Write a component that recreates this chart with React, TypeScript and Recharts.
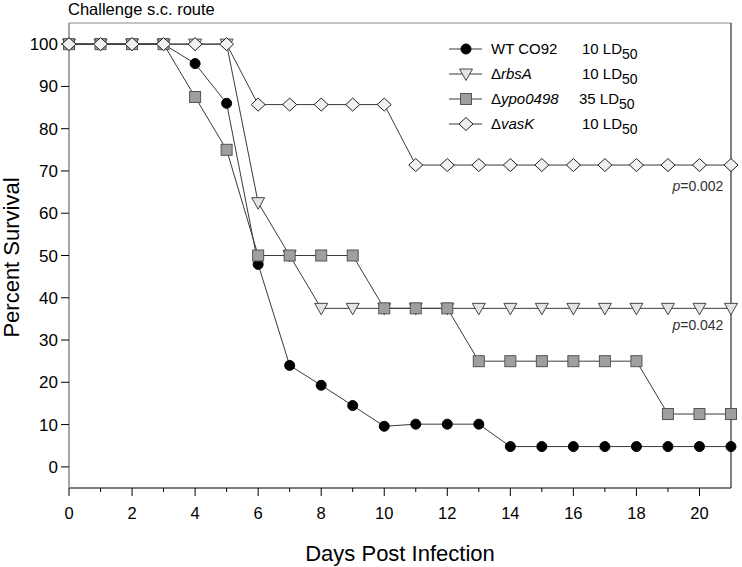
import { LineChart, Line, XAxis, YAxis, ReferenceLine, ReferenceDot, Legend } from 'recharts'

const days = [0, 1, 2, 3, 4, 5, 6, 7, 8, 9, 10, 11, 12, 13, 14, 15, 16, 17, 18, 19, 20, 21]
const wtCO92 = [100, 100, 100, 100, 95.4, 86, 47.9, 24, 19.3, 14.5, 9.6, 10.1, 10.1, 10.1, 4.8, 4.8, 4.8, 4.8, 4.8, 4.8, 4.8, 4.8]
const rbsA = [100, 100, 100, 100, 100, 100, 62.5, 50, 37.5, 37.5, 37.5, 37.5, 37.5, 37.5, 37.5, 37.5, 37.5, 37.5, 37.5, 37.5, 37.5, 37.5]
const ypo0498 = [100, 100, 100, 100, 87.5, 75, 50, 50, 50, 50, 37.5, 37.5, 37.5, 25, 25, 25, 25, 25, 25, 12.5, 12.5, 12.5]
const vasK = [100, 100, 100, 100, 100, 100, 85.7, 85.7, 85.7, 85.7, 85.7, 71.4, 71.4, 71.4, 71.4, 71.4, 71.4, 71.4, 71.4, 71.4, 71.4, 71.4]

const xTicks = [0, 1, 2, 3, 4, 5, 6, 7, 8, 9, 10, 11, 12, 13, 14, 15, 16, 17, 18, 19, 20]
const yTicks = [0, 10, 20, 30, 40, 50, 60, 70, 80, 90, 100]

const pValues = [
  { x: 20.76, y: 66.4, text: '0.002' },
  { x: 20.76, y: 33.6, text: '0.042' },
]

const FONT = "'Liberation Sans', Arial, sans-serif"
const LINE = '#3a3a3a'

const data = days.map((d, i) => ({
  day: d,
  wt: wtCO92[i],
  rbsA: rbsA[i],
  ypo: ypo0498[i],
  vasK: vasK[i],
}))

type Shape = 'circle' | 'triangle' | 'square' | 'diamond'

function Marker({ shape, cx, cy }: { shape: Shape; cx: number; cy: number }) {
  if (shape === 'circle') return <circle cx={cx} cy={cy} r={5} fill="#000" stroke="#000" />
  if (shape === 'triangle')
    return (
      <polygon
        points={`${cx - 6.5},${cy - 5} ${cx + 6.5},${cy - 5} ${cx},${cy + 6.5}`}
        fill="#e4e4e4"
        stroke="#444"
        strokeWidth={1}
      />
    )
  if (shape === 'square')
    return <rect x={cx - 5.5} y={cy - 5.5} width={11} height={11} fill="#9f9f9f" stroke="#555" strokeWidth={1} />
  return (
    <polygon
      points={`${cx},${cy - 6.5} ${cx + 7},${cy} ${cx},${cy + 6.5} ${cx - 7},${cy}`}
      fill="#f0f0f0"
      stroke="#222"
      strokeWidth={1}
    />
  )
}

const makeDot = (shape: Shape) =>
  // eslint-disable-next-line @typescript-eslint/no-explicit-any
  (props: any) => <Marker key={`${shape}-${props.index}`} shape={shape} cx={props.cx} cy={props.cy} />

const legendRows: { shape: Shape; name: string; italic: boolean; dose: string }[] = [
  { shape: 'circle', name: 'WT CO92', italic: false, dose: '10' },
  { shape: 'triangle', name: 'rbsA', italic: true, dose: '10' },
  { shape: 'square', name: 'ypo0498', italic: true, dose: '35' },
  { shape: 'diamond', name: 'vasK', italic: true, dose: '10' },
]

function LegendBox() {
  return (
    <svg width={215} height={108} style={{ fontFamily: FONT, display: 'block', overflow: 'visible' }}>
      {legendRows.map((r, i) => {
        const y = 11 + i * 25
        return (
          <g key={r.name}>
            <line x1={4} x2={37} y1={y} y2={y} stroke={LINE} strokeWidth={1.2} />
            <Marker shape={r.shape} cx={21} cy={y} />
            <text x={46} y={y + 5} fontSize={15} fill="#000">
              {r.italic ? (
                <>
                  <tspan>Δ</tspan>
                  <tspan fontStyle="italic">{r.name}</tspan>
                </>
              ) : (
                r.name
              )}
            </text>
            <text x={r.dose === '35' ? 134 : 137} y={y + 5} fontSize={15} fill="#000">
              {r.dose} LD
              <tspan fontSize={14} dy={5}>
                50
              </tspan>
            </text>
          </g>
        )
      })}
    </svg>
  )
}

// eslint-disable-next-line @typescript-eslint/no-explicit-any
function XTick(props: any) {
  const { x, y, payload } = props
  const axisY = y - 8
  const major = payload.value % 2 === 0
  return (
    <g>
      <line x1={x} x2={x} y1={axisY} y2={axisY + (major ? 8 : 4)} stroke="#000" />
      {major && (
        <text x={x} y={axisY + 31} textAnchor="middle" fontSize={16.5} fill="#000" fontFamily={FONT}>
          {payload.value}
        </text>
      )}
    </g>
  )
}

export default function App() {
  return (
    <div style={{ position: 'absolute', left: 0, top: 0, width: 742, height: 567, background: '#fff' }}>
      <div
        style={{
          position: 'absolute',
          left: 68,
          top: 0,
          fontFamily: FONT,
          fontSize: 16.5,
          color: '#000',
          lineHeight: '19px',
        }}
      >
        Challenge s.c. route
      </div>
      <LineChart
        width={742}
        height={567}
        data={data}
        margin={{ top: 23, right: 11, bottom: 29, left: 19 }}
        style={{ fontFamily: FONT }}
      >
        <XAxis
          type="number"
          dataKey="day"
          domain={[0, 21]}
          ticks={xTicks}
          interval={0}
          tick={XTick}
          tickLine={false}
          tickSize={8}
          tickMargin={0}
          axisLine={{ stroke: '#000', strokeWidth: 1 }}
          height={50}
          label={{
            // eslint-disable-next-line @typescript-eslint/no-explicit-any
            content: (p: any) => (
              <text
                x={p.viewBox.x + p.viewBox.width / 2}
                y={553}
                textAnchor="middle"
                dominantBaseline="central"
                fontSize={22}
                fill="#000"
                fontFamily={FONT}
              >
                Days Post Infection
              </text>
            ),
          }}
        />
        <YAxis
          type="number"
          domain={[-5, 105]}
          ticks={yTicks}
          interval={0}
          width={50}
          tickSize={8}
          tickMargin={3}
          tick={{ fontSize: 17, fill: '#000', fontFamily: FONT }}
          tickLine={{ stroke: '#000' }}
          axisLine={{ stroke: '#888', strokeWidth: 1.5 }}
          label={{
            // eslint-disable-next-line @typescript-eslint/no-explicit-any
            content: (p: any) => {
              const cy = p.viewBox.y + p.viewBox.height / 2 + 2
              return (
                <text
                  x={11}
                  y={cy}
                  transform={`rotate(-90, 11, ${cy})`}
                  textAnchor="middle"
                  dominantBaseline="central"
                  fontSize={22}
                  fill="#000"
                  fontFamily={FONT}
                >
                  Percent Survival
                </text>
              )
            },
          }}
        />
        <ReferenceLine y={105} stroke="#888" strokeWidth={1} />
        <ReferenceLine x={21} stroke="#000" strokeWidth={1} />
        {pValues.map((p) => (
          <ReferenceDot
            key={p.text}
            x={p.x}
            y={p.y}
            r={0}
            fillOpacity={0}
            strokeOpacity={0}
            label={{
              // eslint-disable-next-line @typescript-eslint/no-explicit-any
              content: (lp: any) => (
                <text
                  x={lp.viewBox.x}
                  y={lp.viewBox.y}
                  textAnchor="end"
                  dominantBaseline="central"
                  fontSize={14}
                  fill="#333"
                  fontFamily={FONT}
                >
                  <tspan fontStyle="italic">p</tspan>={p.text}
                </text>
              ),
            }}
          />
        ))}
        <Line dataKey="wt" stroke={LINE} strokeWidth={1} dot={makeDot('circle')} isAnimationActive={false} />
        <Line dataKey="rbsA" stroke={LINE} strokeWidth={1} dot={makeDot('triangle')} isAnimationActive={false} />
        <Line dataKey="ypo" stroke={LINE} strokeWidth={1} dot={makeDot('square')} isAnimationActive={false} />
        <Line dataKey="vasK" stroke={LINE} strokeWidth={1} dot={makeDot('diamond')} isAnimationActive={false} />
        <Legend
          layout="vertical"
          align="center"
          verticalAlign="middle"
          content={() => <LegendBox />}
          wrapperStyle={{ position: 'absolute', left: 445, top: 38, width: 215, height: 108 }}
        />
      </LineChart>
    </div>
  )
}
